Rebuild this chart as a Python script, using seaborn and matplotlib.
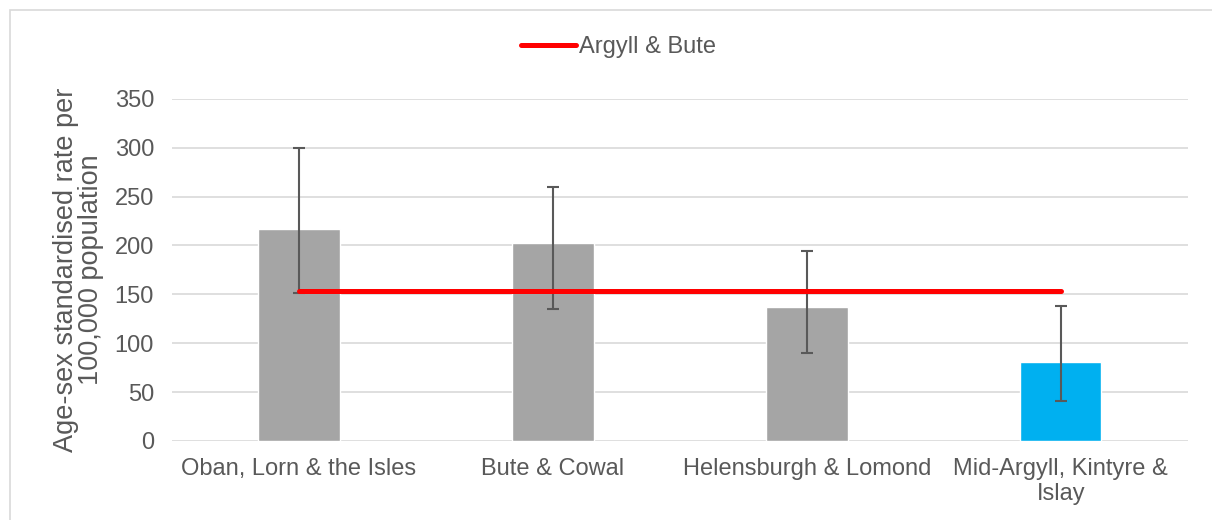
import numpy as np
import pandas as pd
import matplotlib
matplotlib.use('Agg')
import matplotlib.pyplot as plt
import seaborn as sns
from matplotlib.patches import Rectangle

# data
areas = ['Oban, Lorn & the Isles', 'Bute & Cowal', 'Helensburgh & Lomond',
         'Mid-Argyll, Kintyre &\nIslay']
rates = [217, 203, 137, 81]
ci_low = [151, 135, 90, 41]
ci_high = [300, 260, 194, 138]
argyll_bute = [153, 153, 153, 153]
bar_colors = ['#a5a5a5', '#a5a5a5', '#a5a5a5', '#00b0f0']

sns.set_style('white')
plt.rcParams['font.family'] = ['Liberation Sans', 'DejaVu Sans']
txt = '#595959'

fig = plt.figure(figsize=(12.12, 5.2), dpi=100)
ax = fig.add_axes([0.142, 0.152, 0.838, 0.658])
fig.patches.append(Rectangle((0.008, -0.1), 1.1, 1.08, transform=fig.transFigure,
                             fill=False, edgecolor='#d9d9d9', linewidth=1.2))

df = pd.DataFrame({'area': areas, 'rate': rates})
sns.barplot(data=df, x='area', y='rate', hue='area', palette=bar_colors,
            legend=False, width=0.32, ax=ax, saturation=1)

x = np.arange(len(areas))
yerr = [np.array(rates) - np.array(ci_low), np.array(ci_high) - np.array(rates)]
ax.errorbar(x, rates, yerr=yerr, fmt='none', ecolor='#595959', elinewidth=1.5,
            capsize=4.6, capthick=1.5, zorder=3)
ax.plot(x, argyll_bute, color='#ff0000', linewidth=3.6, label='Argyll & Bute',
        solid_capstyle='round', zorder=4)

ax.set_ylim(0, 350)
ax.set_xlim(-0.5, 3.5)
ax.set_yticks(range(0, 351, 50))
ax.yaxis.grid(True, color='#d9d9d9', linewidth=1.2)
ax.set_axisbelow(True)
for s in ax.spines.values():
    s.set_visible(False)
ax.tick_params(axis='both', colors=txt, labelsize=17, length=0)
ax.tick_params(axis='y', pad=13)
ax.tick_params(axis='x', pad=12)
for lab in ax.get_xticklabels():
    lab.set_linespacing(1.2)
ax.set_xlabel('')
ax.set_ylabel('Age-sex standardised rate per\n100,000 population', fontsize=19.5,
              color=txt, linespacing=0.95, labelpad=8)

ax.legend(loc='center', bbox_to_anchor=(0.51, 0.91), bbox_transform=fig.transFigure,
          frameon=False, fontsize=17, handlelength=2.35, handletextpad=0.1,
          labelcolor=txt)

fig.savefig('out.png', dpi=100)
